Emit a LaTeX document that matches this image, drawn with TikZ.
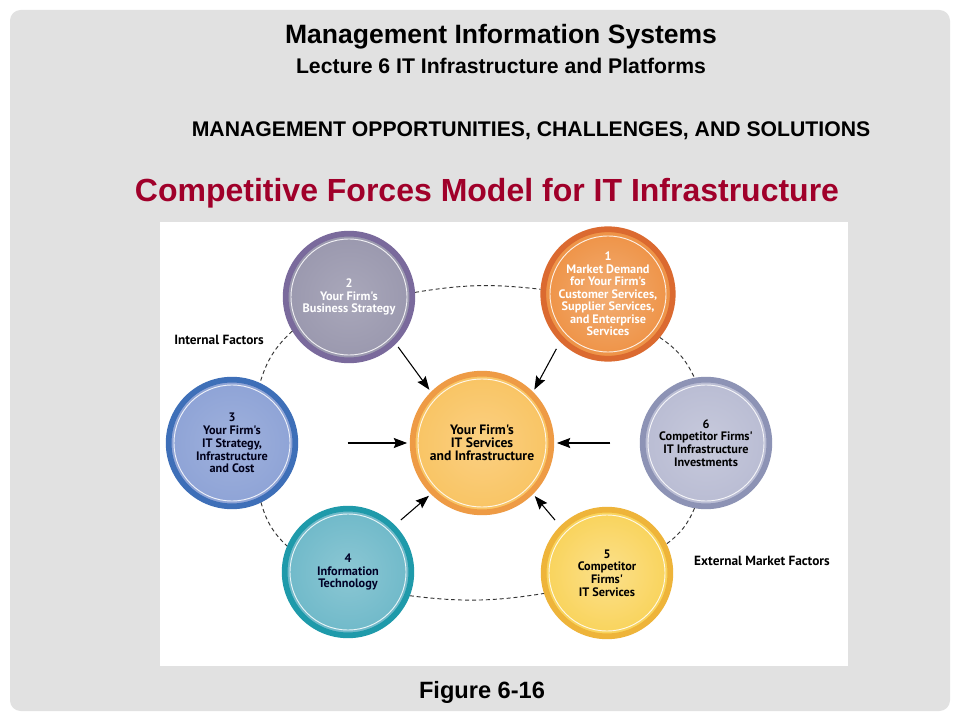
\documentclass[tikz,border=0pt]{standalone}
\usepackage{fontspec}
\setmainfont{Liberation Sans}
\newfontfamily\dfont{PT Sans}
\usetikzlibrary{arrows.meta}
\definecolor{bggray}{HTML}{E1E1E1}
\definecolor{titlered}{HTML}{A0002A}
\definecolor{cAf}{HTML}{9A98AE}\definecolor{cAb}{HTML}{7A6A9C}
\definecolor{cBf}{HTML}{EE9245}\definecolor{cBb}{HTML}{DB6A30}
\definecolor{cCf}{HTML}{8EA3D6}\definecolor{cCb}{HTML}{3E6FB8}
\definecolor{cMf}{HTML}{F9C463}\definecolor{cMb}{HTML}{EE9B45}
\definecolor{cFf}{HTML}{B9BCD3}\definecolor{cFb}{HTML}{8D93B5}
\definecolor{cDf}{HTML}{6FB9C9}\definecolor{cDb}{HTML}{1F9AAA}
\definecolor{cEf}{HTML}{F9D35A}\definecolor{cEb}{HTML}{EEB43A}
\begin{document}
\begin{tikzpicture}[x=0.75pt,y=-0.75pt,
  ball/.style={circle, minimum size=95pt, inner sep=0pt, line width=4.3pt,
    shading=radial, align=center, font=\dfont\bfseries\fontsize{9.2}{9.6}\selectfont},
  ring/.style={white, line width=0.7pt, opacity=0.85},
  dcon/.style={draw=black!80, line width=0.7pt, dash pattern=on 3pt off 2.2pt},
  arr/.style={draw=black, line width=0.8pt, -{Stealth[length=10pt,width=7.5pt,inset=1.5pt]}, shorten >=2pt},
  lbl/.style={font=\dfont\bfseries\fontsize{10}{12}\selectfont}]
\useasboundingbox (0,0) rectangle (960,720);
\fill[white] (0,0) rectangle (960,720);
\fill[bggray, rounded corners=8pt] (10,10) rectangle (950,711);
\fill[white] (160,222) rectangle (848,666);
% titles
\node[font=\bfseries\fontsize{19.9}{22}\selectfont] (t1) at (501,37) {Management Information Systems};
\node[font=\bfseries\fontsize{15.9}{18}\selectfont] (t2) at (501,66) {Lecture 6 IT Infrastructure and Platforms};
\node[font=\bfseries\fontsize{15.9}{18}\selectfont] (t3) at (531,131) {MANAGEMENT OPPORTUNITIES, CHALLENGES, AND SOLUTIONS};
\node[font=\bfseries\fontsize{24}{28}\selectfont, text=titlered] (t4) at (487,193) {Competitive Forces Model for IT Infrastructure};
\node[font=\bfseries\fontsize{17.7}{20}\selectfont] (fig) at (482,692) {Figure 6-16};
% circles
\node[ball, draw=cAb, inner color=cAf!85!white, outer color=cAf, text=white] (n2) at (349,297) {2\\Your Firm's\\Business Strategy};
\node[ball, draw=cBb, inner color=cBf!75!white, outer color=cBf, text=white, font=\dfont\bfseries\fontsize{9.2}{9.4}\selectfont] (n1) at (608,294) {1\\Market Demand\\for Your Firm's\\Customer Services,\\Supplier Services,\\and Enterprise\\Services};
\node[ball, draw=cCb, inner color=cCf!85!white, outer color=cCf, text=black!90!blue] (n3) at (232,443) {3\\Your Firm's\\IT Strategy,\\Infrastructure\\and Cost};
\node[ball, minimum size=104pt, draw=cMb, inner color=cMf!80!white, outer color=cMf, text=black, font=\dfont\bfseries\fontsize{10.2}{9.8}\selectfont] (c) at (482,443) {Your Firm's\\IT Services\\and Infrastructure};
\node[ball, draw=cFb, inner color=cFf!80!white, outer color=cFf, text=black] (n6) at (706,443) {6\\Competitor Firms'\\IT Infrastructure\\Investments};
\node[ball, draw=cDb, inner color=cDf!80!white, outer color=cDf, text=black!85!blue] (n4) at (348,572) {4\\Information\\Technology};
\node[ball, draw=cEb, inner color=cEf!70!white, outer color=cEf, text=black] (n5) at (607,573) {5\\Competitor\\Firms'\\IT Services};
\foreach \n in {n1,n2,n3,n4,n5,n6}{\draw[ring] (\n.center) circle[radius=58];}
\draw[ring] (c.center) circle[radius=64];
% labels
\node[lbl] (lint) at (219,340) {Internal Factors};
\node[lbl] (lext) at (762,561) {External Market Factors};
% dashed ring connectors
\draw[dcon] (n2.4) to[bend left=8] (n1.176);
\draw[dcon] (n2.211) to[bend right=15] (n3.65);
\draw[dcon] (n1.-40) to[bend left=15] (n6.100);
\draw[dcon] (n3.-64) to[bend right=15] (n4.157);
\draw[dcon] (n4.-21) to[bend right=8] (n5.198);
\draw[dcon] (n6.-100) to[bend left=15] (n5.26);
% arrows into centre
\draw[arr, shorten <=3pt] (n2.-45) -- (c.135);
\draw[arr, shorten <=6pt] (n1.225) -- (c.45);
\draw[arr, shorten <=37pt] (n3.east) -- (c.west);
\draw[arr, shorten <=22pt] (n6.west) -- (c.east);
\draw[arr, shorten <=6pt] (n4.45) -- (c.225);
\draw[arr, shorten <=6pt] (n5.135) -- (c.-45);
\end{tikzpicture}
\end{document}
